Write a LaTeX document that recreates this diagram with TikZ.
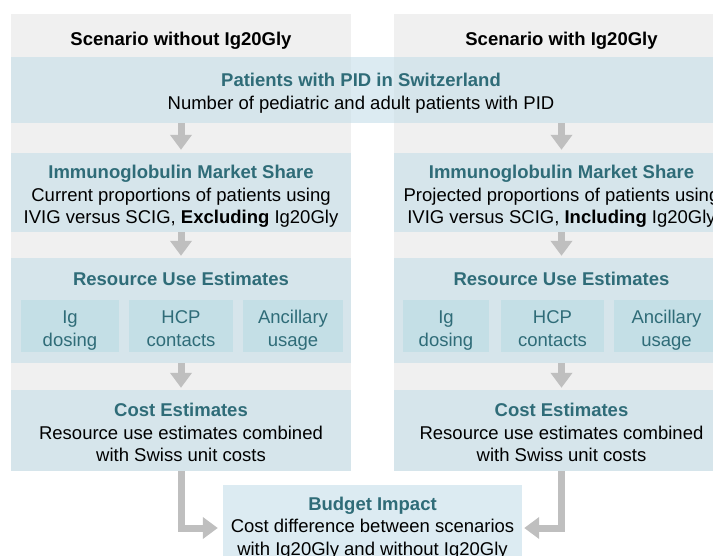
\documentclass[tikz,border=0pt]{standalone}
\usepackage{fontspec}
\setmainfont{Liberation Sans}
\usetikzlibrary{arrows.meta}
\definecolor{colgrey}{HTML}{F0F0F0}
\definecolor{boxblue}{HTML}{C5DEE9}
\definecolor{subteal}{HTML}{C4DFE6}
\definecolor{titleteal}{HTML}{2F6C78}
\definecolor{flowgrey}{HTML}{BFBFBF}
\newcommand{\bodysize}{\fontsize{18.5pt}{22.5pt}\selectfont}
\newcommand{\ttl}[1]{{\color{titleteal}\bfseries #1}}
\newcommand{\twoline}[2]{\rule{0pt}{23.5pt}#1\\#2\rule[-5pt]{0pt}{5pt}}

\begin{document}
\begin{tikzpicture}[x=1pt,y=-1pt,
    scencol/.style={fill=colgrey,inner sep=0pt,minimum height=457pt},
    infobox/.style={fill=boxblue,fill opacity=0.6,text opacity=1,inner sep=0pt,align=center,font=\bodysize},
    boxtext/.style={inner sep=0pt,align=center,font=\bodysize},
    subbox/.style={fill=subteal,inner sep=0pt,minimum height=52pt,align=center,font=\bodysize,text=titleteal},
    flowarrow/.style={draw=flowgrey,line width=7pt,-{Triangle[length=15pt,width=21pt]},shorten >=2pt}]
        \useasboundingbox (0,0) rectangle (713,556);
        \clip (0,0) rectangle (713,556);
        \node[scencol,minimum width=340pt] (colL) at (181,242.5) {};
        \node[scencol,minimum width=335pt] (colR) at (561.5,242.5) {};
        \node[font=\bodysize\bfseries] (headL) at (181,41) {Scenario without Ig20Gly};
        \node[font=\bodysize\bfseries] (headR) at (561.5,41) {Scenario with Ig20Gly};
        \node[infobox,minimum width=718pt,minimum height=66pt] (pat) at (370,90) {};
        \node[boxtext] (patT) at (361,93) {\ttl{Patients with PID in Switzerland}\\Number of pediatric and adult patients with PID};
        \node[infobox,minimum width=340pt,minimum height=79pt] (mktL) at (181,192.5) {};
        \node[infobox,minimum width=335pt,minimum height=79pt] (mktR) at (561.5,192.5) {};
        \node[boxtext] (mktTL) at ([shift={(0,4)}]mktL.center) {\ttl{Immunoglobulin Market Share}\\Current proportions of patients using\\IVIG versus SCIG, \textbf{Excluding} Ig20Gly};
        \node[boxtext] (mktTR) at ([shift={(0,4)}]mktR.center) {\ttl{Immunoglobulin Market Share}\\Projected proportions of patients using\\IVIG versus SCIG, \textbf{Including} Ig20Gly};
        \node[infobox,minimum width=340pt,minimum height=105pt] (resL) at (181,310.5) {};
        \node[infobox,minimum width=335pt,minimum height=105pt] (resR) at (561.5,310.5) {};
        \node[boxtext] (resTL) at (181,279) {\ttl{Resource Use Estimates}};
        \node[boxtext] (resTR) at (561.5,279) {\ttl{Resource Use Estimates}};
        \node[subbox,minimum width=98pt] (igL) at (70,326) {\twoline{Ig}{dosing}};
        \node[subbox,minimum width=104pt] (hcpL) at (181,326) {\twoline{HCP}{contacts}};
        \node[subbox,minimum width=100pt] (ancL) at (293,326) {\twoline{Ancillary}{usage}};
        \node[subbox,minimum width=86pt] (igR) at (446,326) {\twoline{Ig}{dosing}};
        \node[subbox,minimum width=103pt] (hcpR) at (552.5,326) {\twoline{HCP}{contacts}};
        \node[subbox,minimum width=105pt] (ancR) at (666.5,326) {\twoline{Ancillary}{usage}};
        \node[infobox,minimum width=340pt,minimum height=81pt] (costL) at (181,430.5) {};
        \node[infobox,minimum width=335pt,minimum height=81pt] (costR) at (561.5,430.5) {};
        \node[boxtext] (costTL) at ([shift={(0,2)}]costL.center) {\ttl{Cost Estimates}\\Resource use estimates combined\\with Swiss unit costs};
        \node[boxtext] (costTR) at ([shift={(0,2)}]costR.center) {\ttl{Cost Estimates}\\Resource use estimates combined\\with Swiss unit costs};
        \node[infobox,minimum width=299pt,minimum height=86pt] (bud) at (372.5,528) {\ttl{Budget Impact}\\Cost difference between scenarios\\with Ig20Gly and without Ig20Gly};
        \draw[flowarrow,shorten >=3pt] (pat.south -| mktL.north) -- (mktL.north);
        \draw[flowarrow,shorten >=3pt] (pat.south -| mktR.north) -- (mktR.north);
        \draw[flowarrow] (mktL.south) -- (resL.north);
        \draw[flowarrow] (mktR.south) -- (resR.north);
        \draw[flowarrow] (resL.south) -- (costL.north);
        \draw[flowarrow] (resR.south) -- (costR.north);
        \draw[flowarrow,shorten >=5pt] (costL.south) |- (bud.west);
        \draw[flowarrow] (costR.south) |- (bud.east);
\end{tikzpicture}
\end{document}
